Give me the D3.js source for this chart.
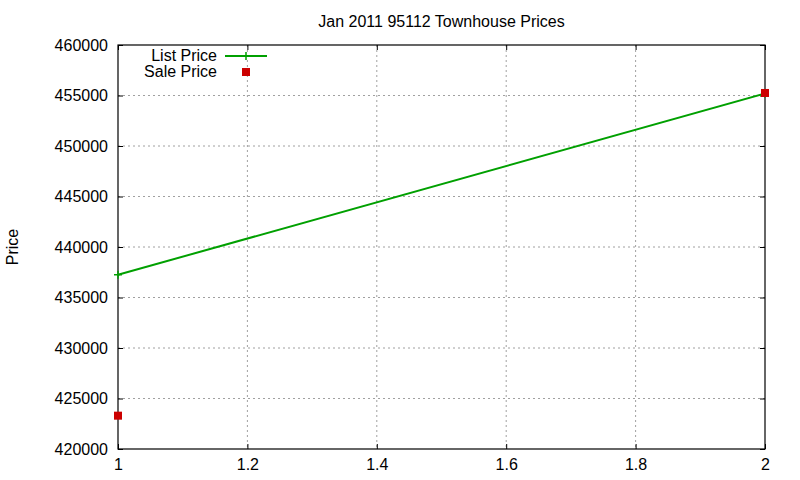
<!DOCTYPE html>
<html>
<head>
<meta charset="utf-8">
<script src="https://cdn.jsdelivr.net/npm/d3@7"></script>
<style>
  body { margin: 0; background: #fff; }
  text { font-family: "Liberation Sans", Arial, sans-serif; font-size: 16px; fill: #000; }
</style>
</head>
<body>
<div class="chart"></div>
<script>
// data
var xValues = [1, 2];
var listPrices = [437250, 455200];
var salePrices = [423300, 455250];
var xTicks = [1, 1.2, 1.4, 1.6, 1.8, 2];
var yTicks = [420000, 425000, 430000, 435000, 440000, 445000, 450000, 455000, 460000];

var svgWidth = 800;
var svgHeight = 480;

var margin = { top: 45, right: 35, bottom: 31, left: 118 };
var width = svgWidth - margin.left - margin.right;
var height = svgHeight - margin.top - margin.bottom;

var svg = d3.select(".chart")
  .append("svg")
  .attr("width", svgWidth)
  .attr("height", svgHeight);

var chartGroup = svg.append("g")
  .attr("transform", `translate(${margin.left}, ${margin.top})`);

var xScale = d3.scaleLinear().domain([1, 2]).range([0, width]);
var yScale = d3.scaleLinear().domain([420000, 460000]).range([height, 0]);

// grid lines
chartGroup.append("g")
  .selectAll("line")
  .data(xTicks.slice(1, -1))
  .enter()
  .append("line")
  .attr("x1", d => xScale(d)).attr("x2", d => xScale(d))
  .attr("y1", 0).attr("y2", height)
  .attr("stroke", "#a0a0a0")
  .attr("stroke-dasharray", "2,3");

chartGroup.append("g")
  .selectAll("line")
  .data(yTicks.slice(1, -1))
  .enter()
  .append("line")
  .attr("x1", 0).attr("x2", width)
  .attr("y1", d => yScale(d)).attr("y2", d => yScale(d))
  .attr("stroke", "#a0a0a0")
  .attr("stroke-dasharray", "2,3");

// axes, ticks pointing inward, mirrored on top and right
var bottomAxis = d3.axisBottom(xScale).tickValues(xTicks).tickSize(-5).tickPadding(10).tickFormat(d3.format("~g"));
var topAxis = d3.axisTop(xScale).tickValues(xTicks).tickSize(-5).tickFormat("");
var leftAxis = d3.axisLeft(yScale).tickValues(yTicks).tickSize(-5).tickPadding(10).tickFormat(d3.format("d"));
var rightAxis = d3.axisRight(yScale).tickValues(yTicks).tickSize(-5).tickFormat("");

[
  chartGroup.append("g").attr("transform", `translate(0, ${height})`).call(bottomAxis),
  chartGroup.append("g").call(topAxis),
  chartGroup.append("g").call(leftAxis),
  chartGroup.append("g").attr("transform", `translate(${width}, 0)`).call(rightAxis)
].forEach(function (g) {
  g.select(".domain").remove();
  g.selectAll("line").attr("stroke", "#000");
  g.selectAll("text").attr("fill", "#000");
});

// border
chartGroup.append("rect")
  .attr("width", width)
  .attr("height", height)
  .attr("fill", "none")
  .attr("stroke", "#000")
  .attr("stroke-width", 1.2);

// list price line
var line = d3.line()
  .x((d, i) => xScale(xValues[i]))
  .y(d => yScale(d));

chartGroup.append("path")
  .datum(listPrices)
  .attr("d", line)
  .attr("fill", "none")
  .attr("stroke", "#00a000")
  .attr("stroke-width", 2);

chartGroup.selectAll(".listPoint")
  .data(listPrices)
  .enter()
  .append("path")
  .attr("d", "M-4,0H4M0,-4V4")
  .attr("transform", (d, i) => `translate(${xScale(xValues[i])}, ${yScale(d)})`)
  .attr("stroke", "#00a000")
  .attr("stroke-width", 1.5);

// sale price squares
chartGroup.selectAll(".salePoint")
  .data(salePrices)
  .enter()
  .append("rect")
  .attr("x", (d, i) => xScale(xValues[i]) - 4)
  .attr("y", d => yScale(d) - 4)
  .attr("width", 8)
  .attr("height", 8)
  .attr("fill", "#cc0000");

// title
svg.append("text")
  .attr("x", margin.left + width / 2)
  .attr("y", 27)
  .attr("text-anchor", "middle")
  .text("Jan 2011 95112 Townhouse Prices");

// y label
svg.append("text")
  .attr("transform", "rotate(-90)")
  .attr("x", -247)
  .attr("y", 18)
  .attr("text-anchor", "middle")
  .text("Price");

// legend
var legend = svg.append("g");

legend.append("text")
  .attr("x", 217).attr("y", 61)
  .attr("text-anchor", "end")
  .text("List Price");

legend.append("line")
  .attr("x1", 225).attr("x2", 267)
  .attr("y1", 56).attr("y2", 56)
  .attr("stroke", "#00a000")
  .attr("stroke-width", 2);

legend.append("path")
  .attr("d", "M-4,0H4M0,-4V4")
  .attr("transform", "translate(246, 56)")
  .attr("stroke", "#00a000")
  .attr("stroke-width", 1.5);

legend.append("text")
  .attr("x", 217).attr("y", 77)
  .attr("text-anchor", "end")
  .text("Sale Price");

legend.append("rect")
  .attr("x", 242).attr("y", 68)
  .attr("width", 8).attr("height", 8)
  .attr("fill", "#cc0000");
</script>
</body>
</html>
